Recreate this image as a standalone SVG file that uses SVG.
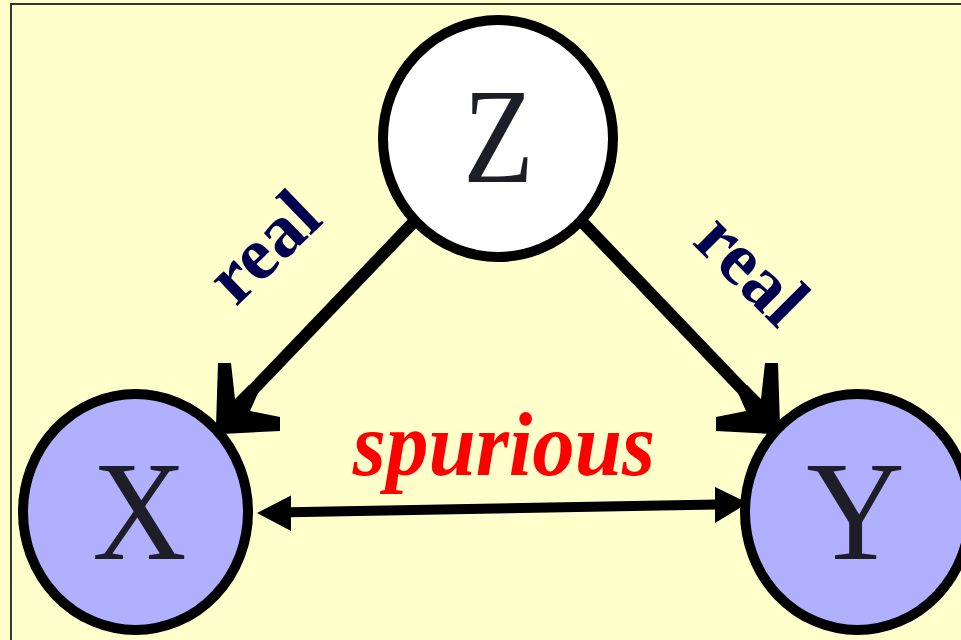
<svg xmlns="http://www.w3.org/2000/svg" width="961" height="640" viewBox="0 0 961 640">
  <style>
    .node { stroke: #000; stroke-width: 10; }
    .letter { fill: #1e1e28; text-anchor: middle; }
    .edge { fill: none; stroke: #000; stroke-width: 12; stroke-linecap: butt; }
    .biline { fill: none; stroke: #000; stroke-width: 10; }
    .head { fill: #000; stroke: none; }
    .real { font-weight: bold; font-size: 75px; fill: #000050; text-anchor: middle; }
    .spur { font-weight: bold; font-style: italic; font-size: 85px; fill: #ff0000; text-anchor: middle; }
  </style>
  <rect x="0" y="0" width="961" height="640" fill="#ffffcc"/>
  <rect x="11" y="4" width="1000" height="1000" fill="none" stroke="#222" stroke-width="1.8"/>

  <g id="connectors">
    <path class="edge" d="M430,205 L230,414"/>
    <polygon class="head" points="218,363 231,363 235,399 249,385 258,393 250,411 280,417 280,431 222,434 216,426"/>
    <path class="edge" d="M566,205 L766,414"/>
    <polygon class="head" points="778,363 765,363 761,399 747,385 738,393 746,411 716,417 716,431 774,434 780,426"/>
    <path class="biline" d="M289,512.3 L717,504.4"/>
    <polygon class="head" points="257,513 291,495.5 291,531"/>
    <polygon class="head" points="748,503 715,487 715,523"/>
  </g>

  <g id="node-Z">
    <ellipse class="node" cx="498" cy="138.5" rx="115" ry="118.5" fill="#ffffff"/>
    <text class="letter" font-family="'Liberation Serif', 'Times New Roman', serif" font-size="136" transform="translate(498.5,182) scale(0.85,1)">Z</text>
  </g>
  <g id="node-X">
    <ellipse class="node" cx="135.5" cy="512" rx="112.5" ry="118" fill="#b0b0ff"/>
    <text class="letter" font-family="'Liberation Serif', 'Times New Roman', serif" font-size="142" transform="translate(139.5,559) scale(0.92,1)">X</text>
  </g>
  <g id="node-Y">
    <ellipse class="node" cx="857.5" cy="512" rx="112.5" ry="118" fill="#b0b0ff"/>
    <text class="letter" font-family="'Liberation Serif', 'Times New Roman', serif" font-size="142" transform="translate(855.5,559) scale(0.96,1)">Y</text>
  </g>

  <g id="labels">
    <text class="real" font-family="'Liberation Serif', 'Times New Roman', serif" transform="translate(267,251) rotate(-44)" x="0" y="19">real</text>
    <text class="real" font-family="'Liberation Serif', 'Times New Roman', serif" transform="translate(748,273) rotate(45)" x="0" y="19">real</text>
    <text class="spur" font-family="'Liberation Serif', 'Times New Roman', serif" transform="translate(504,475) scale(1,1.07)" x="0" y="0">spurious</text>
  </g>
</svg>
